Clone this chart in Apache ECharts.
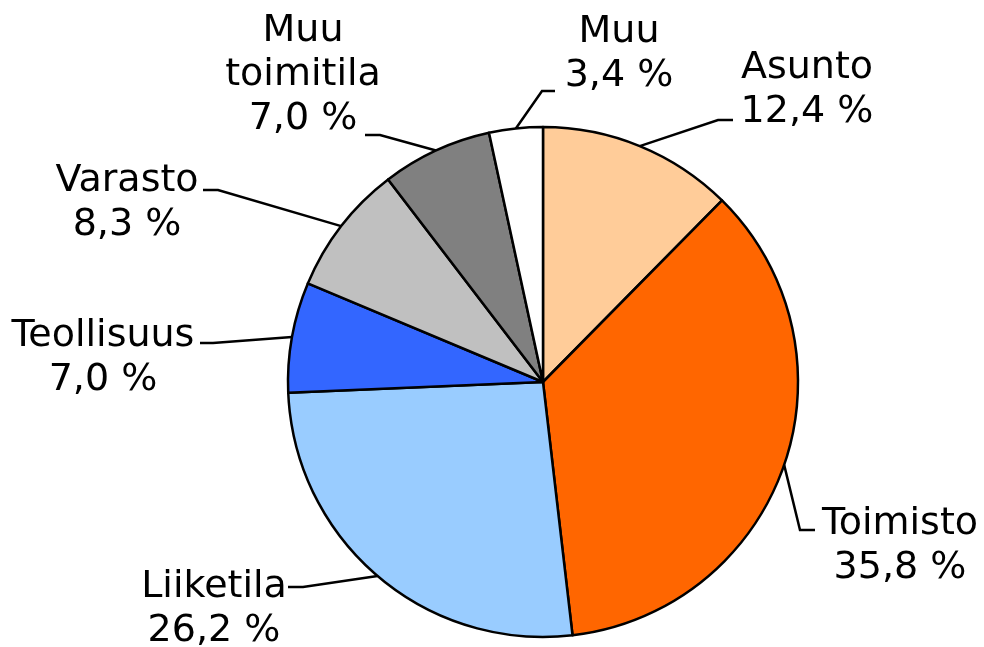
<!DOCTYPE html>
<html>
<head>
<meta charset="utf-8">
<script src="https://cdn.jsdelivr.net/npm/echarts@6/dist/echarts.min.js"></script>
<style>
  html, body { margin: 0; padding: 0; background: #fff; }
  #chart { width: 984px; height: 647px; }
</style>
</head>
<body>
<div id="chart"></div>
<script>
// data
const categories = ['Asunto', 'Toimisto', 'Liiketila', 'Teollisuus', 'Varasto', 'Muu\ntoimitila', 'Muu']
const shares = [12.4, 35.8, 26.2, 7.0, 8.3, 7.0, 3.4]
const colors = ['#FFCC99', '#FF6600', '#99CCFF', '#3366FF', '#C0C0C0', '#808080', '#FFFFFF']

// label placement (text centre + leader line bend/end)
const labelPos = [
  { x: 807, y: 90, bend: [718, 120], end: [733, 120] },
  { x: 900, y: 546, bend: [800, 530], end: [815, 530] },
  { x: 214, y: 609, bend: [303, 587], end: [288, 587] },
  { x: 103, y: 358, bend: [213, 343], end: [200, 343] },
  { x: 127, y: 203, bend: [218, 190], end: [203, 190] },
  { x: 303, y: 75, bend: [380, 135], end: [365, 135] },
  { x: 619, y: 54, bend: [542, 91], end: [555, 91] }
]

const fmt = v => v.toFixed(1).replace('.', ',') + ' %'

const chart = echarts.init(document.getElementById('chart'))

chart.setOption({
  animation: false,
  backgroundColor: '#fff',
  series: [{
    type: 'pie',
    center: [543, 382],
    radius: 255,
    startAngle: 90,
    clockwise: true,
    avoidLabelOverlap: false,
    data: categories.map((name, i) => ({
      name: name,
      value: shares[i],
      itemStyle: { color: colors[i] }
    })),
    itemStyle: { borderColor: '#000', borderWidth: 2.5 },
    label: {
      show: true,
      position: 'outside',
      formatter: p => p.name + '\n' + fmt(p.value),
      fontFamily: 'Verdana, "DejaVu Sans", sans-serif',
      fontSize: 38,
      lineHeight: 44,
      color: '#000',
      align: 'center'
    },
    labelLine: {
      show: true,
      length: 20,
      length2: 15,
      smooth: false,
      lineStyle: { color: '#000', width: 2.5 }
    },
    labelLayout: params => {
      const lp = labelPos[params.dataIndex]
      const start = params.labelLinePoints ? params.labelLinePoints[0] : lp.bend
      return {
        x: lp.x,
        y: lp.y,
        align: 'center',
        verticalAlign: 'middle',
        labelLinePoints: [start, lp.bend, lp.end]
      }
    },
    emphasis: { disabled: true }
  }]
})
</script>
</body>
</html>
